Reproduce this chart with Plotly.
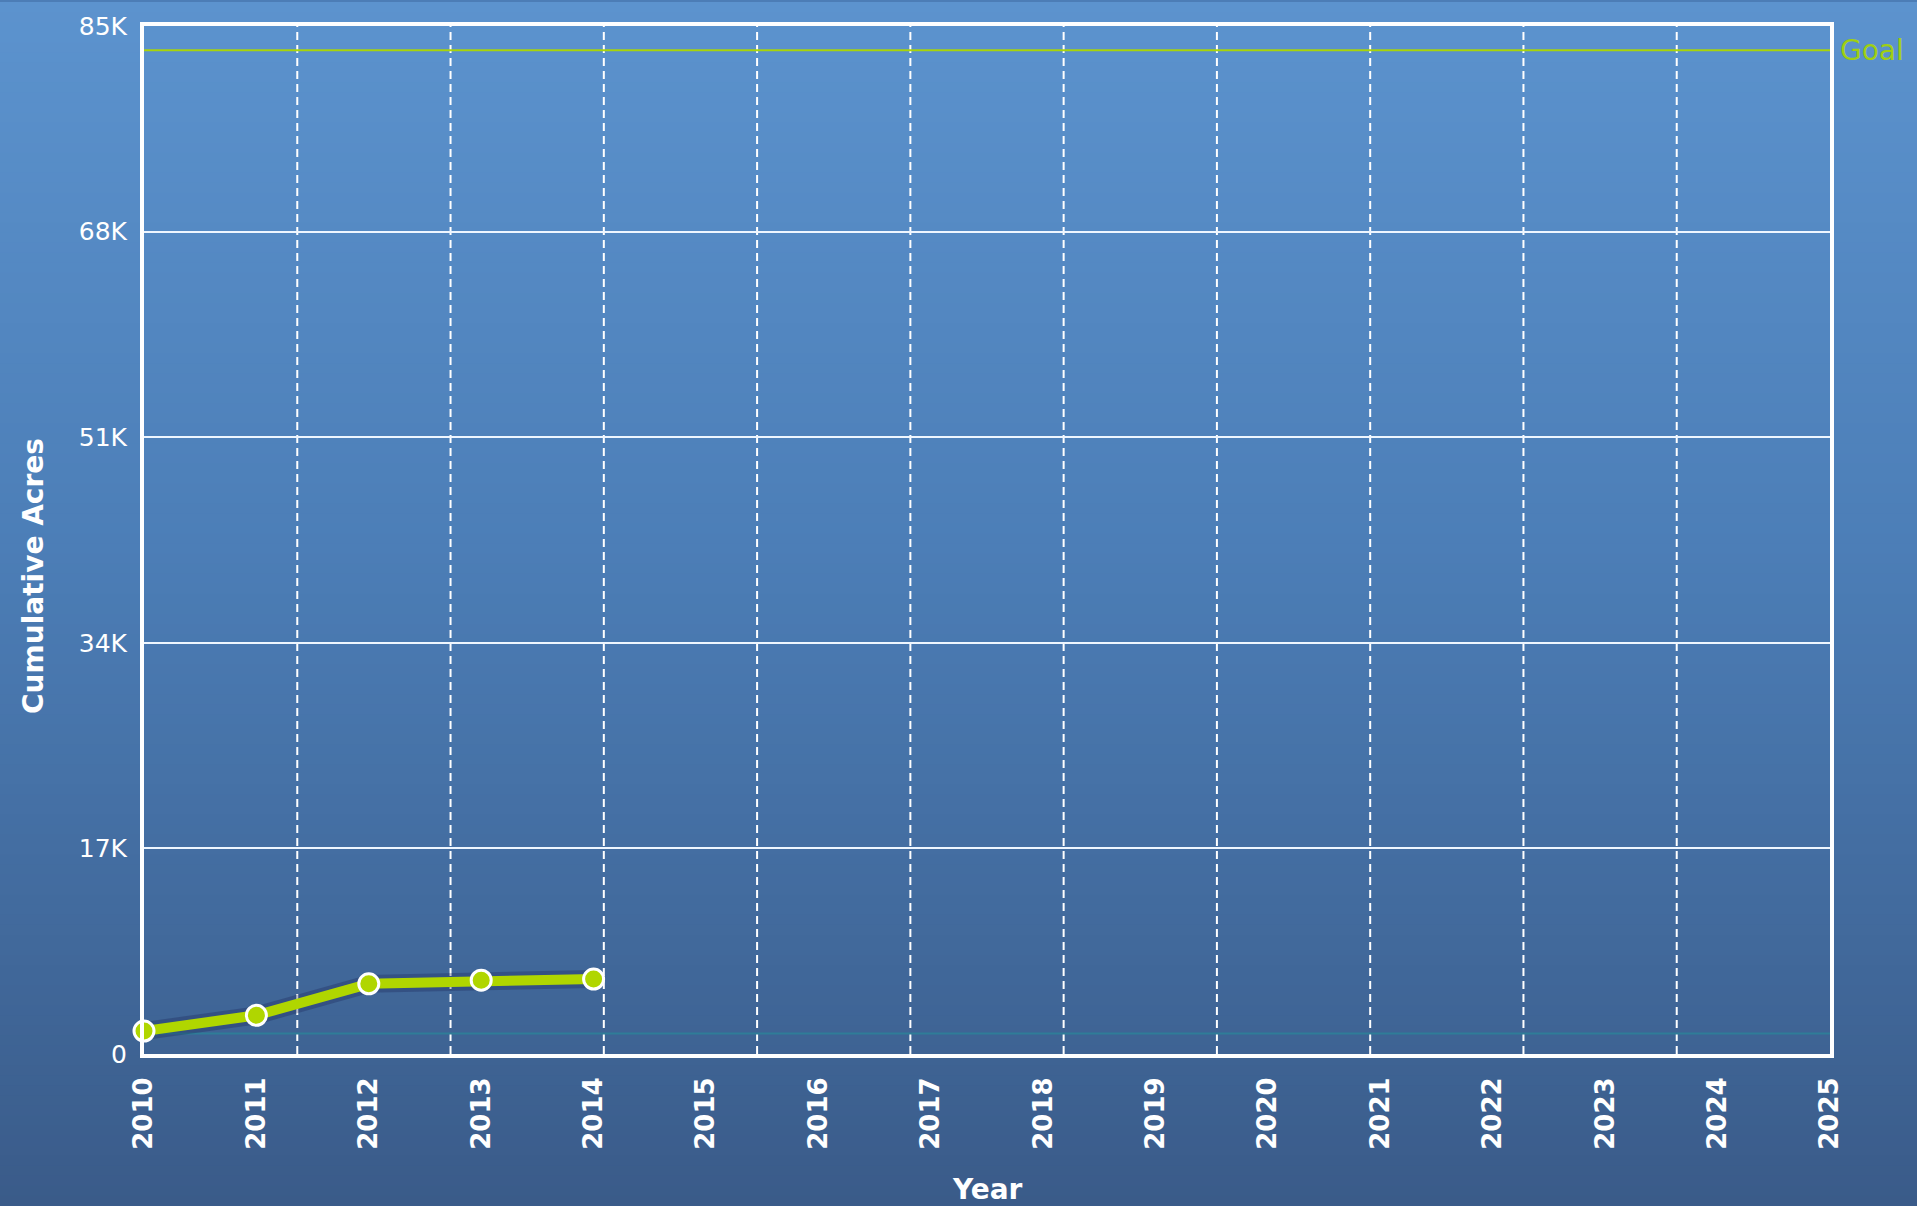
import plotly.graph_objects as go

# ---- data ----
years = [2010, 2011, 2012, 2013, 2014]
cumulative_acres = [1900, 3200, 5800, 6100, 6200]
baseline_years = [2010, 2011, 2012, 2013, 2014, 2015, 2016, 2017, 2018, 2019, 2020, 2021, 2022, 2023, 2024, 2025]
baseline_values = [1700, 1700, 1700, 1700, 1700, 1700, 1700, 1700, 1700, 1700, 1700, 1700, 1700, 1700, 1700, 1700]
goal_value = 83000
x_ticks = list(range(2010, 2026))
y_tickvals = [0, 17000, 34000, 51000, 68000, 85000]
y_ticktext = ["0", "17K", "34K", "51K", "68K", "85K"]

W, H = 1917, 1206
ML, MR, MT, MB = 144, 87, 24, 152
plot_h = H - MT - MB
plot_bottom = H - MB

GREEN = "#b0d600"

fig = go.Figure()

# baseline teal line
fig.add_trace(go.Scatter(
    x=baseline_years, y=baseline_values, mode="lines",
    line=dict(color="#2f7d98", width=2),
    showlegend=False,
))
# soft shadow under the main line
fig.add_trace(go.Scatter(
    x=years, y=cumulative_acres, mode="lines",
    line=dict(color="rgba(20,30,80,0.28)", width=18),
    hoverinfo="skip", showlegend=False, cliponaxis=False,
))
# main series
fig.add_trace(go.Scatter(
    x=years, y=cumulative_acres, mode="lines+markers",
    line=dict(color=GREEN, width=10),
    marker=dict(size=20, color=GREEN, line=dict(color="white", width=3)),
    showlegend=False, cliponaxis=False,
))

shapes = []
# vertical gradient background (bands)
def lerp(c1, c2, t):
    return tuple(round(a + (b - a) * t) for a, b in zip(c1, c2))

stops = [(0.0, (92, 147, 206)), (0.45, (76, 126, 183)), (1.0, (58, 91, 137))]
N = 120
for i in range(N):
    py0 = H * i / N
    py1 = H * (i + 1) / N + 1
    t = (i + 0.5) / N
    for (t0, c0), (t1, c1) in zip(stops[:-1], stops[1:]):
        if t0 <= t <= t1:
            col = lerp(c0, c1, (t - t0) / (t1 - t0))
            break
    shapes.append(dict(
        type="rect", xref="paper", yref="paper",
        x0=-0.2, x1=1.2,
        y0=(plot_bottom - py1) / plot_h, y1=(plot_bottom - py0) / plot_h,
        fillcolor="rgb(%d,%d,%d)" % col, line=dict(width=0), layer="below",
    ))

# dashed vertical grid (11 equal divisions)
for i in range(1, 11):
    shapes.append(dict(
        type="line", xref="x domain", yref="y domain",
        x0=i / 11, x1=i / 11, y0=0, y1=1,
        line=dict(color="white", width=2, dash="8px,5px"), layer="below",
    ))

# goal line
shapes.append(dict(
    type="line", xref="x domain", yref="y",
    x0=0, x1=1, y0=goal_value, y1=goal_value,
    line=dict(color="#a8d40a", width=2), layer="above",
))

annotations = [
    dict(text="Goal", xref="paper", yref="y", x=1, y=goal_value,
         xanchor="left", yanchor="middle", xshift=8, showarrow=False,
         font=dict(family="DejaVu Sans", size=28, color="#9fcf12")),
    dict(text="<b>Cumulative Acres</b>", xref="paper", yref="paper",
         x=(34 - ML) / (W - ML - MR), y=(plot_bottom - 575) / plot_h,
         textangle=-90, showarrow=False, xanchor="center", yanchor="middle",
         font=dict(family="DejaVu Sans", size=28, color="white")),
    dict(text="<b>Year</b>", xref="paper", yref="paper",
         x=0.5, y=(plot_bottom - 1190) / plot_h,
         showarrow=False, xanchor="center", yanchor="middle",
         font=dict(family="DejaVu Sans", size=28, color="white")),
]

fig.update_layout(
    width=W, height=H,
    margin=dict(l=ML, r=MR, t=MT, b=MB),
    paper_bgcolor="#4c7db6",
    plot_bgcolor="rgba(0,0,0,0)",
    shapes=shapes,
    annotations=annotations,
    xaxis=dict(
        range=[2010, 2025], tickmode="array", tickvals=x_ticks,
        ticktext=[str(v) for v in x_ticks], tickangle=-90,
        tickfont=dict(family="DejaVu Sans", size=26, color="white", weight="bold"),
        showgrid=False, zeroline=False,
        showline=True, linecolor="white", linewidth=4, mirror=True,
        ticks="", ticklabelstandoff=9,
    ),
    yaxis=dict(
        range=[0, 85000], tickmode="array", tickvals=y_tickvals, ticktext=y_ticktext,
        tickfont=dict(family="DejaVu Sans", size=25, color="white"),
        showgrid=True, gridcolor="#eef6ff", gridwidth=2, zeroline=False,
        showline=True, linecolor="white", linewidth=4, mirror=True,
        ticks="", ticklabelstandoff=8,
    ),
)

fig.write_html("out.html")
